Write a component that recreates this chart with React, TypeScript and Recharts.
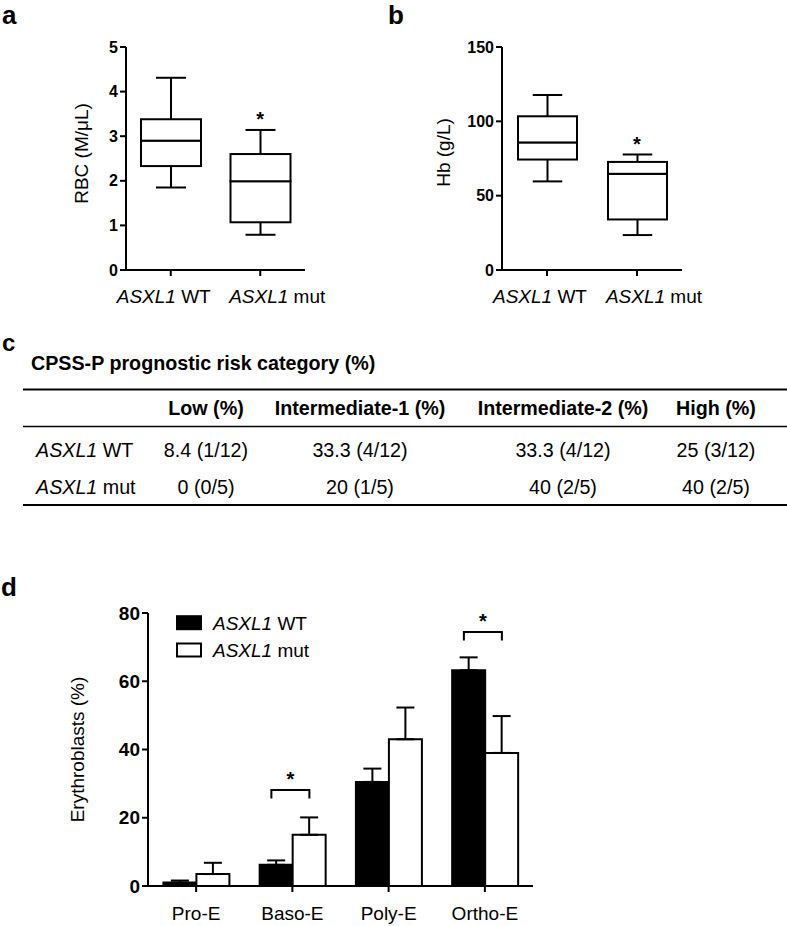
import React from 'react';
import { ComposedChart, Bar, XAxis, YAxis, ErrorBar, ReferenceDot, Legend } from 'recharts';

const FONT = '"Liberation Sans", Arial, Helvetica, sans-serif';
const INK = '#000';

// a / b: box plots (min, Q1, median, Q3, max per group)
const groups = ['ASXL1 WT', 'ASXL1 mut'];

const rbcMin = [1.85, 0.79];
const rbcQ1 = [2.33, 1.07];
const rbcMedian = [2.9, 1.99];
const rbcQ3 = [3.38, 2.6];
const rbcMax = [4.31, 3.14];
const rbcTicks = [0, 1, 2, 3, 4, 5];
const rbcStar = { group: 'ASXL1 mut', value: 3.47 };

const hbMin = [59.6, 23.5];
const hbQ1 = [74.3, 34.0];
const hbMedian = [85.8, 64.7];
const hbQ3 = [103.4, 72.7];
const hbMax = [117.7, 77.7];
const hbTicks = [0, 50, 100, 150];
const hbStar = { group: 'ASXL1 mut', value: 87.4 };

// c: risk category table
const riskTitle = 'CPSS-P prognostic risk category (%)';
const riskHeaders = ['Low (%)', 'Intermediate-1 (%)', 'Intermediate-2 (%)', 'High (%)'];
const riskRowLabels = ['ASXL1 WT', 'ASXL1 mut'];
const riskWT = ['8.4 (1/12)', '33.3 (4/12)', '33.3 (4/12)', '25 (3/12)'];
const riskMut = ['0 (0/5)', '20 (1/5)', '40 (2/5)', '40 (2/5)'];

// d: erythroblast stages, mean + upper error
const stages = ['Pro-E', 'Baso-E', 'Poly-E', 'Ortho-E'];
const wtMean = [1.0, 6.2, 30.5, 63.2];
const wtErr = [0.6, 1.3, 3.9, 3.8];
const mutMean = [3.5, 15.0, 43.0, 39.0];
const mutErr = [3.3, 5.1, 9.3, 10.8];
const erythTicks = [0, 20, 40, 60, 80];
const erythSig = [
  { stage: 'Baso-E', value: 28.1 },
  { stage: 'Ortho-E', value: 74.4 },
];

const toBoxRows = (min: number[], q1: number[], med: number[], q3: number[], max: number[]) =>
  groups.map((g, i) => ({
    group: g,
    base: min[i],
    lowWhisker: q1[i] - min[i],
    lowBox: med[i] - q1[i],
    highBox: q3[i] - med[i],
    highWhisker: max[i] - q3[i],
  }));

const rbcRows = toBoxRows(rbcMin, rbcQ1, rbcMedian, rbcQ3, rbcMax);
const hbRows = toBoxRows(hbMin, hbQ1, hbMedian, hbQ3, hbMax);

const erythRows = stages.map((s, i) => ({
  stage: s,
  wt: wtMean[i],
  wtErr: [0, wtErr[i]],
  mut: mutMean[i],
  mutErr: [0, mutErr[i]],
}));

// label nudges as in the original layout
const geneTickNudge: Record<string, number> = { 'ASXL1 WT': -7, 'ASXL1 mut': 17 };

const GeneText = ({ label }: { label: string }) => {
  const [gene, ...rest] = label.split(' ');
  return (
    <>
      <tspan fontStyle="italic">{gene}</tspan>
      <tspan>{' ' + rest.join(' ')}</tspan>
    </>
  );
};

const GeneTick = (props: any) => {
  const { x, y, payload } = props;
  const nudge = geneTickNudge[payload.value] || 0;
  return (
    <text x={x + nudge} y={y + 25} textAnchor="middle" fontFamily={FONT} fontSize={19} fill={INK}>
      <GeneText label={payload.value} />
    </text>
  );
};

const AxisTitle = (props: any) => {
  const { viewBox, text, cx, shift = 0 } = props;
  const cy = viewBox.y + viewBox.height / 2 + shift;
  return (
    <text
      x={cx}
      y={cy}
      transform={`rotate(-90, ${cx}, ${cy})`}
      textAnchor="middle"
      dominantBaseline="central"
      fontFamily={FONT}
      fontSize={19}
      fill={INK}
    >
      {text}
    </text>
  );
};

const Hidden = () => <g />;

const LowWhisker = (props: any) => {
  const { x, y, width, height } = props;
  const mid = x + width / 2;
  return (
    <g stroke={INK} strokeWidth={2}>
      <line x1={mid} x2={mid} y1={y} y2={y + height} />
      <line x1={mid - width / 4} x2={mid + width / 4} y1={y + height} y2={y + height} />
    </g>
  );
};

const HighWhisker = (props: any) => {
  const { x, y, width, height } = props;
  const mid = x + width / 2;
  return (
    <g stroke={INK} strokeWidth={2}>
      <line x1={mid} x2={mid} y1={y} y2={y + height} />
      <line x1={mid - width / 4} x2={mid + width / 4} y1={y} y2={y} />
    </g>
  );
};

const BoxPart = (props: any) => {
  const { x, y, width, height } = props;
  return <rect x={x} y={y} width={width} height={height} fill="#fff" stroke={INK} strokeWidth={2} />;
};

const Star = (props: any) => {
  const { cx, cy } = props;
  return (
    <text x={cx} y={cy + 11} textAnchor="middle" fontFamily={FONT} fontSize={20} fontWeight={700} fill={INK}>
      *
    </text>
  );
};

const Bracket = (props: any) => {
  const { cx, cy } = props;
  return (
    <g>
      <path
        d={`M${cx - 21},${cy + 8.5} V${cy} H${cx + 17} V${cy + 8.5}`}
        fill="none"
        stroke={INK}
        strokeWidth={2}
      />
      <text x={cx - 2} y={cy - 4} textAnchor="middle" fontFamily={FONT} fontSize={20} fontWeight={700} fill={INK}>
        *
      </text>
    </g>
  );
};

const axisStroke = { stroke: INK, strokeWidth: 2 };

interface BoxPanelProps {
  rows: any[];
  ticks: number[];
  yLabel: string;
  star: { group: string; value: number };
  left: number;
  yAxisWidth: number;
  rightMargin: number;
  barSize: number;
  labelX: number;
  labelShift: number;
}

function BoxPanel({ rows, ticks, yLabel, star, left, yAxisWidth, rightMargin, barSize, labelX, labelShift }: BoxPanelProps) {
  return (
    <div style={{ position: 'absolute', left, top: 0 }}>
      <ComposedChart width={330} height={320} data={rows} margin={{ top: 47, right: rightMargin, left: 0, bottom: 0 }}>
        <XAxis
          dataKey="group"
          height={50}
          interval={0}
          tickSize={6}
          axisLine={axisStroke}
          tickLine={axisStroke}
          tick={<GeneTick />}
        />
        <YAxis
          type="number"
          width={yAxisWidth}
          domain={[ticks[0], ticks[ticks.length - 1]]}
          ticks={ticks}
          interval={0}
          tickSize={6}
          axisLine={axisStroke}
          tickLine={axisStroke}
          tick={{ fill: INK, fontSize: 16, fontWeight: 700, fontFamily: FONT }}
          label={<AxisTitle text={yLabel} cx={labelX} shift={labelShift} />}
        />
        <Bar dataKey="base" stackId="box" barSize={barSize} shape={<Hidden />} isAnimationActive={false} />
        <Bar dataKey="lowWhisker" stackId="box" barSize={barSize} shape={<LowWhisker />} isAnimationActive={false} />
        <Bar dataKey="lowBox" stackId="box" barSize={barSize} shape={<BoxPart />} isAnimationActive={false} />
        <Bar dataKey="highBox" stackId="box" barSize={barSize} shape={<BoxPart />} isAnimationActive={false} />
        <Bar dataKey="highWhisker" stackId="box" barSize={barSize} shape={<HighWhisker />} isAnimationActive={false} />
        <ReferenceDot x={star.group} y={star.value} shape={<Star />} />
      </ComposedChart>
    </div>
  );
}

const ErythLegend = (props: any) => {
  const { payload = [] } = props;
  return (
    <svg width={170} height={60} style={{ display: 'block' }}>
      {payload.map((entry: any, i: number) => {
        const cy = 8.7 + i * 27.3;
        return (
          <g key={entry.value}>
            <rect x={2} y={cy - 6.5} width={24} height={13} fill={entry.color} stroke={INK} strokeWidth={2} />
            <text x={38} y={cy + 6.8} fontFamily={FONT} fontSize={19} fill={INK}>
              <GeneText label={entry.value} />
            </text>
          </g>
        );
      })}
    </svg>
  );
};

function ErythPanel() {
  return (
    <div style={{ position: 'absolute', left: 0, top: 570 }}>
      <ComposedChart
        width={560}
        height={356}
        data={erythRows}
        margin={{ top: 43, right: 27, left: 0, bottom: 0 }}
        barCategoryGap="16%"
        barGap={0}
      >
        <XAxis
          dataKey="stage"
          height={40}
          interval={0}
          tickSize={6}
          tickMargin={15}
          axisLine={axisStroke}
          tickLine={axisStroke}
          tick={{ fill: INK, fontSize: 19, fontFamily: FONT }}
        />
        <YAxis
          type="number"
          width={148}
          domain={[0, 80]}
          ticks={erythTicks}
          interval={0}
          tickSize={6}
          axisLine={axisStroke}
          tickLine={axisStroke}
          tick={{ fill: INK, fontSize: 19, fontWeight: 700, fontFamily: FONT }}
          label={<AxisTitle text="Erythroblasts (%)" cx={77} shift={0} />}
        />
        <Legend
          layout="horizontal"
          verticalAlign="middle"
          align="center"
          wrapperStyle={{ left: 175, top: 44, width: 170, height: 60 }}
          content={<ErythLegend />}
        />
        <Bar dataKey="wt" name="ASXL1 WT" fill="#000" stroke={INK} strokeWidth={2} isAnimationActive={false}>
          <ErrorBar dataKey="wtErr" direction="y" width={9} stroke={INK} strokeWidth={2} />
        </Bar>
        <Bar dataKey="mut" name="ASXL1 mut" fill="#fff" stroke={INK} strokeWidth={2} isAnimationActive={false}>
          <ErrorBar dataKey="mutErr" direction="y" width={9} stroke={INK} strokeWidth={2} />
        </Bar>
        {erythSig.map((s) => (
          <ReferenceDot key={s.stage} x={s.stage} y={s.value} shape={<Bracket />} />
        ))}
      </ComposedChart>
    </div>
  );
}

const colX = [206, 360, 563, 716];
const TABLE_FS = 19.7;

function RiskTable() {
  const rows = [riskWT, riskMut];
  return (
    <g fontFamily={FONT} fill={INK}>
      <text x={31} y={370} fontSize={TABLE_FS} fontWeight={700}>
        {riskTitle}
      </text>
      <line x1={23} x2={787} y1={389.5} y2={389.5} stroke={INK} strokeWidth={2} />
      {riskHeaders.map((h, i) => (
        <text key={h} x={colX[i]} y={415} textAnchor="middle" fontSize={TABLE_FS} fontWeight={700}>
          {h}
        </text>
      ))}
      <line x1={23} x2={787} y1={426.5} y2={426.5} stroke={INK} strokeWidth={1.6} />
      {rows.map((vals, r) => (
        <g key={r}>
          <text x={36} y={457 + r * 37} fontSize={TABLE_FS}>
            <GeneText label={riskRowLabels[r]} />
          </text>
          {vals.map((v, i) => (
            <text key={i} x={colX[i]} y={457 + r * 37} textAnchor="middle" fontSize={TABLE_FS}>
              {v}
            </text>
          ))}
        </g>
      ))}
      <line x1={23} x2={787} y1={505} y2={505} stroke={INK} strokeWidth={2} />
    </g>
  );
}

export default function App() {
  return (
    <div style={{ position: 'absolute', left: 0, top: 0, width: 787, height: 926, background: '#fff', overflow: 'hidden' }}>
      <svg width={787} height={926} style={{ position: 'absolute', left: 0, top: 0 }}>
        <g fontFamily={FONT} fontWeight={700} fill={INK}>
          <text x={2} y={24} fontSize={26}>a</text>
          <text x={388} y={24} fontSize={26}>b</text>
          <text x={2} y={351} fontSize={24}>c</text>
          <text x={1} y={596} fontSize={26}>d</text>
        </g>
        <RiskTable />
      </svg>
      <BoxPanel
        rows={rbcRows}
        ticks={rbcTicks}
        yLabel="RBC (M/μL)"
        star={rbcStar}
        left={0}
        yAxisWidth={126}
        rightMargin={25}
        barSize={60}
        labelX={81}
        labelShift={-5}
      />
      <BoxPanel
        rows={hbRows}
        ticks={hbTicks}
        yLabel="Hb (g/L)"
        star={hbStar}
        left={380}
        yAxisWidth={122}
        rightMargin={28}
        barSize={59}
        labelX={63}
        labelShift={-6}
      />
      <ErythPanel />
    </div>
  );
}
